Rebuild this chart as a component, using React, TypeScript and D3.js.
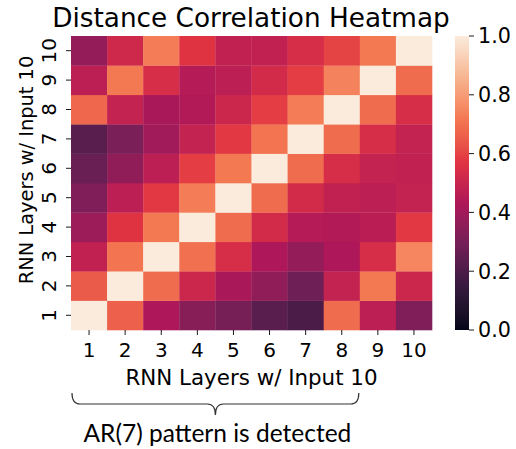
import React from "react";
import * as d3 from "d3";

const layers = ["1", "2", "3", "4", "5", "6", "7", "8", "9", "10"];
// rows: layer on y-axis (1..10), columns: layer on x-axis (1..10)
const row1 = [1.0, 0.66, 0.43, 0.34, 0.30, 0.23, 0.20, 0.69, 0.47, 0.32];
const row2 = [0.65, 1.0, 0.69, 0.51, 0.42, 0.36, 0.28, 0.49, 0.72, 0.51];
const row3 = [0.48, 0.71, 1.0, 0.70, 0.54, 0.43, 0.37, 0.43, 0.54, 0.75];
const row4 = [0.39, 0.57, 0.72, 1.0, 0.69, 0.53, 0.45, 0.44, 0.46, 0.58];
const row5 = [0.32, 0.47, 0.58, 0.73, 1.0, 0.69, 0.53, 0.48, 0.47, 0.49];
const row6 = [0.27, 0.36, 0.47, 0.59, 0.72, 1.0, 0.69, 0.54, 0.49, 0.48];
const row7 = [0.23, 0.31, 0.40, 0.49, 0.58, 0.71, 1.0, 0.69, 0.54, 0.49];
const row8 = [0.68, 0.49, 0.42, 0.44, 0.51, 0.59, 0.73, 1.0, 0.69, 0.54];
const row9 = [0.47, 0.72, 0.54, 0.45, 0.47, 0.53, 0.59, 0.74, 1.0, 0.69];
const row10 = [0.37, 0.52, 0.73, 0.57, 0.48, 0.48, 0.54, 0.60, 0.72, 1.0];
const matrix = [row1, row2, row3, row4, row5, row6, row7, row8, row9, row10];

const cbarTicks = [0, 0.2, 0.4, 0.6, 0.8, 1.0];

const title = "Distance Correlation Heatmap";
const xLabel = "RNN Layers w/ Input 10";
const yLabel = "RNN Layers w/ Input 10";
const annotation = "AR(7) pattern is detected";

const rocketStops = ["#03051a", "#35193e", "#701f57", "#ad1759", "#e13342", "#f37651", "#f6b48f", "#faebdd"];
const rocket = d3.scaleLinear<string>()
  .domain(rocketStops.map((_, i) => i / (rocketStops.length - 1)))
  .range(rocketStops)
  .interpolate(d3.interpolateLab)
  .clamp(true);

const W = 516, H = 449;
const left = 71, right = 432, top = 36, bottom = 330;
const cbLeft = 455, cbRight = 469;
const FONT = "'DejaVu Sans', sans-serif";

export default function App() {
  const x = d3.scaleBand<string>().domain(layers).range([left, right]);
  const y = d3.scaleBand<string>().domain(layers).range([bottom, top]);
  const c = d3.scaleLinear().domain([0, 1]).range([bottom, top]);
  const gradStops = d3.range(0, 1.0001, 0.02);

  const cells: React.ReactNode[] = [];
  matrix.forEach((row, ri) => {
    row.forEach((v, ci) => {
      cells.push(
        <rect key={`${ri}-${ci}`} x={x(layers[ci])} y={y(layers[ri])}
          width={x.bandwidth() + 0.3} height={y.bandwidth() + 0.3} fill={rocket(v)} />
      );
    });
  });

  const xc = (left + right) / 2;
  const bx0 = x(layers[0])! + 1, bx1 = x(layers[8])! - 1;
  const bmid = (bx0 + bx1) / 2;
  const bTop = 393, bLine = 404, bTip = 415, r = 8;
  const bracket = `M${bx0},${bTop} Q${bx0},${bLine} ${bx0 + r},${bLine} L${bmid - r},${bLine} Q${bmid},${bLine} ${bmid},${bTip} Q${bmid},${bLine} ${bmid + r},${bLine} L${bx1 - r},${bLine} Q${bx1},${bLine} ${bx1},${bTop}`;

  return (
    <svg width={W} height={H} style={{ position: "absolute", left: 0, top: 0, background: "#fff" }}>
      <defs>
        <linearGradient id="cbar" x1="0" y1="1" x2="0" y2="0">
          {gradStops.map((t) => (
            <stop key={t} offset={t} stopColor={rocket(t)} />
          ))}
        </linearGradient>
      </defs>
      <text x={251} y={27} textAnchor="middle" fontFamily={FONT} fontSize={26.3} fill="#000">{title}</text>
      <g>{cells}</g>
      {/* x ticks */}
      {layers.map((l) => {
        const cx = x(l)! + x.bandwidth() / 2;
        return (
          <g key={"xt" + l}>
            <line x1={cx} x2={cx} y1={bottom} y2={bottom + 5} stroke="#000" strokeWidth={0.9} />
            <text x={cx} y={356.5} textAnchor="middle" fontFamily={FONT} fontSize={20} fill="#000">{l}</text>
          </g>
        );
      })}
      {/* y ticks */}
      {layers.map((l) => {
        const cy = y(l)! + y.bandwidth() / 2;
        return (
          <g key={"yt" + l}>
            <line x1={left - 5} x2={left} y1={cy} y2={cy} stroke="#000" strokeWidth={0.9} />
            <text transform={`translate(${55.5},${cy}) rotate(-90)`} textAnchor="middle" fontFamily={FONT} fontSize={20} fill="#000">{l}</text>
          </g>
        );
      })}
      <text x={xc} y={385} textAnchor="middle" fontFamily={FONT} fontSize={21.4} fill="#000">{xLabel}</text>
      <text transform={`translate(${33},${170}) rotate(-90)`} textAnchor="middle" fontFamily={FONT} fontSize={19.4} fill="#000">{yLabel}</text>
      {/* colorbar */}
      <rect x={cbLeft} y={top} width={cbRight - cbLeft} height={bottom - top} fill="url(#cbar)" />
      {cbarTicks.map((t) => (
        <g key={"cb" + t}>
          <line x1={cbRight} x2={cbRight + 5} y1={c(t)} y2={c(t)} stroke="#000" strokeWidth={0.9} />
          <text x={cbRight + 9} y={c(t)} dy="0.36em" fontFamily={FONT} fontSize={20.7} fill="#000">{t.toFixed(1)}</text>
        </g>
      ))}
      {/* bracket annotation */}
      <path d={bracket} fill="none" stroke="#333" strokeWidth={1.2} />
      <text x={bmid + 2} y={442} textAnchor="middle" fontFamily="Lato, 'Open Sans', sans-serif" fontSize={24.5} fill="#000">{annotation}</text>
    </svg>
  );
}
